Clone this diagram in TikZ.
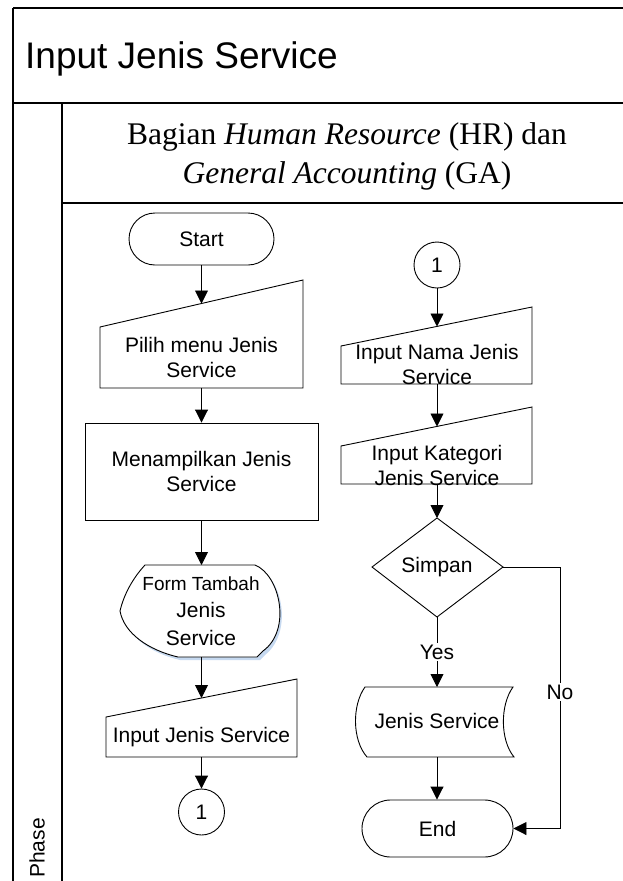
\documentclass[tikz,border=0pt]{standalone}
\usepackage{fontspec}
\setmainfont{Liberation Sans}
\newfontfamily\serifhdr{Liberation Serif}
\usetikzlibrary{arrows.meta,calc}
\definecolor{shadowblue}{HTML}{C6D9F0}
\begin{document}
\begin{tikzpicture}[x=1pt,y=-1pt,
  flow/.style={line width=0.9pt},
  framel/.style={line width=1.4pt},
  arr/.style={flow,-{Triangle[length=13pt,width=13pt]}},
  txt/.style={font=\fontsize{21}{25}\selectfont,align=center,inner sep=0pt},
  lbl/.style={font=\fontsize{21}{25}\selectfont,fill=white,inner sep=2pt},
  term/.style={draw,flow,txt},
  circ/.style={draw,flow,circle,minimum size=46pt,inner sep=0pt,font=\fontsize{21}{25}\selectfont}
]
\useasboundingbox (0,0) rectangle (622,881);

% frame and lanes
\draw[framel] (13,8) -- (650,8);
\draw[framel] (13,8) -- (13,900);
\draw[framel] (13,103) -- (650,103);
\draw[framel] (62,103) -- (62,900);
\draw[framel] (62,203) -- (650,203);

\node[anchor=base west,font=\fontsize{37}{40}\selectfont,inner sep=0pt] (title) at (25,68) {Input Jenis Service};
\node[anchor=base,font=\serifhdr\fontsize{31.5}{36}\selectfont,inner sep=0pt] (hdrA) at (347,144) {Bagian \textit{Human Resource} (HR) dan};
\node[anchor=base,font=\serifhdr\fontsize{31.5}{36}\selectfont,inner sep=0pt] (hdrB) at (347,183) {\textit{General Accounting} (GA)};
\node[rotate=90,font=\fontsize{21}{25}\selectfont,inner sep=0pt] (phase) at (37,848) {Phase};

% ---- left column ----
\node[term,rounded corners=26pt,minimum width=145pt,minimum height=52pt] (start) at (201.5,239) {Start};

\coordinate (pilNW) at (100,327);
\coordinate (pilNE) at (303,280);
\coordinate (pilSE) at (303,388);
\coordinate (pilSW) at (100,388);
\draw[flow] (pilSW) -- (pilNW) -- (pilNE) -- (pilSE) -- cycle;
\coordinate (pilTop) at (201.5,303.5);
\coordinate (pilBot) at (201.5,388);
\node[txt] (pilih) at (201.5,357) {Pilih menu Jenis\\Service};

\node[draw,flow,txt,minimum width=233pt,minimum height=97pt] (tampil) at (201.5,471.5) {Menampilkan Jenis\\Service};

% display shape
\path[fill=shadowblue] (147,569) -- (258,569) .. controls (283,578) and (293,633) .. (265,655) -- (260,660) -- (180,660) .. controls (150,653) and (127,636) .. (123,614) -- cycle;
\draw[flow,fill=white] (145,565) -- (255,565) .. controls (280,575) and (292,630) .. (263,651) -- (257,657) -- (178,657) .. controls (148,650) and (124,633) .. (120,611) .. controls (124,594) and (133,578) .. (145,565) -- cycle;
\coordinate (formTop) at (201.5,565);
\coordinate (formBot) at (201.5,657);
\node[inner sep=0pt,font=\fontsize{19}{22}\selectfont] (formA) at (201,584) {Form Tambah};
\node[txt] (formB) at (201,610) {Jenis};
\node[txt] (formC) at (201,638) {Service};

\coordinate (injNW) at (106,717);
\coordinate (injNE) at (297,679);
\coordinate (injSE) at (297,757);
\coordinate (injSW) at (106,757);
\draw[flow] (injSW) -- (injNW) -- (injNE) -- (injSE) -- cycle;
\coordinate (injTop) at (201.5,698);
\coordinate (injBot) at (201.5,757);
\node[txt] (inj) at (201.5,737) {Input Jenis Service};

\node[circ] (cA) at (201.5,812) {1};

\draw[arr] (start.south) -- (pilTop);
\draw[arr] (pilBot) -- (tampil.north);
\draw[arr] (tampil.south) -- (formTop);
\draw[arr] (formBot) -- (injTop);
\draw[arr] (injBot) -- (cA.north);

% ---- right column ----
\node[circ] (cB) at (437,265) {1};

\coordinate (namNW) at (341,346);
\coordinate (namNE) at (532,307);
\coordinate (namSE) at (532,384);
\coordinate (namSW) at (341,384);
\draw[flow] (namSW) -- (namNW) -- (namNE) -- (namSE) -- cycle;
\coordinate (namTop) at (437,326.5);
\coordinate (namBot) at (437,384);
\node[txt] (nama) at (437,364) {Input Nama Jenis\\Service};

\coordinate (katNW) at (341,446);
\coordinate (katNE) at (532,407);
\coordinate (katSE) at (532,484);
\coordinate (katSW) at (341,484);
\draw[flow] (katSW) -- (katNW) -- (katNE) -- (katSE) -- cycle;
\coordinate (katTop) at (437,426.5);
\coordinate (katBot) at (437,484);
\node[txt] (kat) at (437,465) {Input Kategori\\Jenis Service};

\coordinate (dT) at (437,518);
\coordinate (dL) at (372,567);
\coordinate (dR) at (503,567);
\coordinate (dB) at (437,617);
\draw[flow] (dT) -- (dR) -- (dB) -- (dL) -- cycle;
\node[txt] (simpan) at (437,567) {Simpan};

\draw[flow] (365,687) -- (513,687) .. controls (500,705) and (500,740) .. (514,757) -- (367,757) .. controls (352,740) and (352,705) .. (365,687) -- cycle;
\coordinate (jTop) at (437,687);
\coordinate (jBot) at (437,757);
\node[txt] (jenis) at (437,721) {Jenis Service};

\node[term,rounded corners=28.5pt,minimum width=151pt,minimum height=57pt] (end) at (437.5,828.5) {End};

\coordinate (noC) at (560,828.5);

\draw[arr] (cB.south) -- (namTop);
\draw[arr] (namBot) -- (katTop);
\draw[arr] (katBot) -- (dT);
\draw[arr] (dB) -- (jTop);
\draw[arr] (jBot) -- (jBot |- end.north);
\draw[arr] (dR) -| (noC) -- (end.east);
\node[lbl] (yes) at (437,652) {Yes};
\node[lbl] (no) at (560,692) {No};
\end{tikzpicture}
\end{document}
